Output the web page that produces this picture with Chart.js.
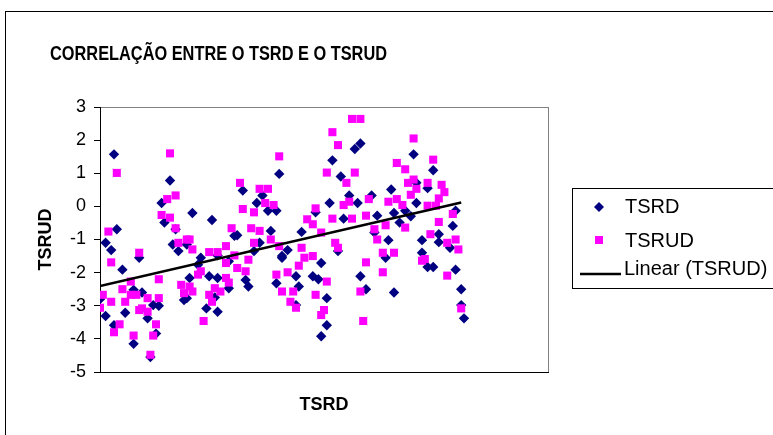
<!DOCTYPE html>
<html>
<head>
<meta charset="utf-8">
<title>Correlação entre o TSRD e o TSRUD</title>
<script src="https://cdn.jsdelivr.net/npm/chart.js@4.4.1/dist/chart.umd.min.js"></script>
<style>
  html, body { margin: 0; padding: 0; background: #fff; }
  canvas { display: block; }
</style>
</head>
<body>
<canvas id="corrChart" width="773" height="435"></canvas>
<script>
// sample number (x) and value (y), per series
const tsrdX = [5, 25, 22, 23, 27, 6, 2, 4, 26, 28, 14, 8, 32, 30, 0, 2, 9, 12, 15, 19, 21, 17, 5, 20, 12, 18,
    64, 51, 58, 56, 60, 63, 33, 40, 61, 49, 48, 57, 31, 55, 65, 36, 42, 46, 35, 39, 42, 52, 63, 53, 46, 41, 38, 42, 31,
    93, 91, 83, 86, 89, 97, 82, 92, 77, 87, 72, 98, 85, 67, 65, 79, 70, 76, 78, 93, 71, 95, 81, 70, 81, 79,
    112, 119, 113, 117, 104, 113, 105, 109, 111, 127, 107, 126, 99, 103, 115, 121, 121, 125, 102, 115, 117, 119, 127, 105, 129, 129, 130];
const tsrdY = [1.57, 0.78, 0.10, -0.49, -0.69, -0.69, -1.10, -1.32, -1.15, -1.35, -1.55, -1.91, -2.16, -2.83, -2.80, -3.31, -3.21, -2.52, -2.60, -2.98, -3.00, -3.38, -3.59, -3.84, -4.15, -4.55,
    0.98, 0.48, 0.33, 0.10, -0.13, -0.13, -0.20, -0.41, -0.74, -0.87, -0.89, -1.10, -1.15, -1.35, -1.50, -1.55, -1.48, -1.66, -1.76, -2.11, -2.16, -2.22, -2.32, -2.42, -2.47, -2.75, -3.08, -3.18, -2.77,
    1.90, 1.73, 1.39, 0.90, 0.33, 0.33, 0.10, 0.10, -0.18, -0.37, -0.77, -0.79, -1.35, -1.32, -1.55, -1.71, -2.11, -2.11, -2.20, -2.11, -2.42, -2.50, -2.77, -2.98, -3.59, -3.92,
    1.57, 1.09, 0.71, 0.55, 0.51, 0.10, -0.20, -0.13, -0.30, -0.13, -0.49, -0.59, -0.28, -1.02, -1.02, -0.84, -1.08, -1.25, -1.55, -1.40, -1.83, -1.83, -1.91, -2.60, -2.50, -2.98, -3.38];

const tsrudX = [6, 25, 27, 24, 22, 25, 27, 3, 28, 31, 4, 14, 21, 11, 29, 30, 8, 1, 4, 0, 9, 11, 13, 17, 21, 14, 15, 17, 7, 5, 20, 19, 12, 18,
    64, 50, 57, 60, 59, 62, 51, 55, 47, 54, 57, 61, 55, 64, 32, 33, 45, 39, 42, 48, 53, 45, 49, 52, 36, 35, 45, 63, 46, 32, 33, 41, 43, 39, 40, 65, 37,
    90, 93, 83, 85, 81, 91, 88, 96, 87, 89, 77, 83, 90, 95, 74, 76, 79, 98, 84, 85, 72, 76, 73, 71, 95, 67, 81, 93, 69, 68, 77, 70, 80, 79, 94,
    112, 106, 109, 119, 110, 112, 113, 117, 122, 123, 121, 111, 103, 106, 108, 117, 120, 126, 109, 121, 102, 99, 118, 124, 127, 128, 101, 105, 115, 116, 124, 101, 129];
const tsrudY = [1.01, 1.60, 0.33, 0.22, -0.26, -0.34, -0.66, -0.76, -1.10, -1.00, -1.69, -1.40, -2.20, -2.27, -2.37, -2.62, -2.50, -2.67, -2.88, -3.06, -2.88, -2.67, -2.67, -2.77, -2.77, -3.13, -3.08, -3.18, -3.56, -3.80, -3.56, -3.90, -3.90, -4.48,
    1.51, 0.71, 0.53, 0.53, 0.10, 0.04, -0.08, -0.18, -0.66, -0.66, -0.74, -1.00, -1.10, -1.20, -1.00, -1.30, -1.20, -1.38, -1.38, -1.48, -1.61, -1.71, -1.86, -1.96, -1.96, -2.06, -2.16, -2.06, -2.30, -2.42, -2.57, -2.47, -2.57, -2.67, -2.88, -2.57, -3.46,
    2.64, 2.64, 2.24, 1.85, 1.02, 1.02, 0.71, 0.22, 0.04, 0.14, -0.06, -0.37, -0.37, -0.28, -0.39, -0.54, -0.79, -0.69, -1.10, -1.25, -1.25, -1.50, -1.55, -1.79, -1.69, -1.99, -2.27, -2.57, -2.57, -2.88, -2.67, -3.06, -3.13, -3.28, -3.46,
    2.05, 1.31, 1.12, 1.41, 0.71, 0.81, 0.53, 0.71, 0.65, 0.43, 0.24, 0.35, 0.14, 0.22, 0.04, 0.02, 0.02, -0.23, -0.64, -0.47, -0.57, -1.00, -0.84, -1.10, -1.00, -1.30, -1.40, -1.40, -1.64, -1.59, -2.09, -1.99, -3.08];

const yTicks = [3, 2, 1, 0, -1, -2, -3, -4, -5];
const xRange = [0, 160];

const seriesNames = ["TSRD", "TSRUD", "Linear (TSRUD)"];
const titleText = "CORRELAÇÃO ENTRE O TSRD E O TSRUD";

// least squares fit, like Excel's linear trendline
function linearFit(xs, ys) {
    let sx = 0, sy = 0, sxx = 0, sxy = 0;
    const n = xs.length;
    for (let i = 0; i < n; i++) {
        sx += xs[i]; sy += ys[i];
        sxx += xs[i] * xs[i]; sxy += xs[i] * ys[i];
    }
    const slope = (n * sxy - sx * sy) / (n * sxx - sx * sx);
    return { slope: slope, intercept: (sy - slope * sx) / n };
}

const toPoints = (xs, ys) => xs.map((x, i) => ({ x: x, y: ys[i] }));

const fit = linearFit(tsrudX, tsrudY);
const trendX = [Math.min(...tsrudX), Math.max(...tsrudX)];
const trendPoints = trendX.map(x => ({ x: x, y: fit.intercept + fit.slope * x }));

const NAVY = "#000080";
const MAGENTA = "#FF00FF";
const FONT = '"Liberation Sans", Arial, sans-serif';
const TITLE_FONT = '"Liberation Sans Narrow", "Arial Narrow", "Liberation Sans", Arial, sans-serif';

// outer frame + grey plot area border
const framePlugin = {
    id: "frame",
    beforeDraw(chart) {
        const { ctx, chartArea: a } = chart;
        ctx.save();
        ctx.fillStyle = "#fff";
        ctx.fillRect(0, 0, chart.width, chart.height);
        ctx.strokeStyle = "#000";
        ctx.lineWidth = 1;
        ctx.strokeRect(5.5, 11.5, 900, 600);
        ctx.strokeStyle = "#808080";
        ctx.strokeRect(a.left + 0.5, a.top + 0.5, a.right - a.left, a.bottom - a.top);
        ctx.restore();
    }
};

// chart title, kept to the width it has in the picture
const titlePlugin = {
    id: "xlTitle",
    afterDraw(chart) {
        const ctx = chart.ctx;
        ctx.save();
        ctx.font = "bold 21px " + TITLE_FONT;
        ctx.fillStyle = "#000";
        ctx.textBaseline = "alphabetic";
        const w = ctx.measureText(titleText).width;
        const target = 337;
        ctx.translate(50, 60);
        if (Math.abs(w - target) > 6) ctx.scale(target / w, 1);
        ctx.fillText(titleText, 0, 0);
        ctx.restore();
    }
};

// boxed legend at the right, like Excel
const legendPlugin = {
    id: "xlLegend",
    afterDraw(chart) {
        const ctx = chart.ctx;
        ctx.save();
        ctx.strokeStyle = "#000";
        ctx.lineWidth = 1;
        ctx.strokeRect(572.5, 188.5, 300, 100);

        // diamond
        ctx.fillStyle = NAVY;
        ctx.beginPath();
        ctx.moveTo(599, 202); ctx.lineTo(604, 207); ctx.lineTo(599, 212); ctx.lineTo(594, 207);
        ctx.closePath();
        ctx.fill();
        // square
        ctx.fillStyle = MAGENTA;
        ctx.fillRect(595, 236, 8, 8);
        // line
        ctx.strokeStyle = "#000";
        ctx.lineWidth = 2.5;
        ctx.beginPath();
        ctx.moveTo(580, 274); ctx.lineTo(621, 274);
        ctx.stroke();

        ctx.fillStyle = "#000";
        ctx.font = "20px " + FONT;
        ctx.textBaseline = "alphabetic";
        ctx.fillText(seriesNames[0], 625, 213);
        ctx.fillText(seriesNames[1], 625, 247);
        ctx.fillText(seriesNames[2], 624, 275);
        ctx.restore();
    }
};

const ctx = document.getElementById("corrChart").getContext("2d");

new Chart(ctx, {
    type: "scatter",
    data: {
        datasets: [{
            label: seriesNames[2],
            type: "line",
            data: trendPoints,
            borderColor: "#000",
            borderWidth: 2.5,
            pointRadius: 0,
            fill: false,
            order: 0
        }, {
            label: seriesNames[1],
            data: toPoints(tsrudX, tsrudY),
            pointStyle: "rect",
            pointRadius: 5.7,
            pointBackgroundColor: MAGENTA,
            pointBorderColor: MAGENTA,
            pointBorderWidth: 0,
            order: 1
        }, {
            label: seriesNames[0],
            data: toPoints(tsrdX, tsrdY),
            pointStyle: "rectRot",
            pointRadius: 5.2,
            pointBackgroundColor: NAVY,
            pointBorderColor: NAVY,
            pointBorderWidth: 0,
            order: 2
        }]
    },
    options: {
        responsive: false,
        animation: false,
        layout: {
            padding: { left: 0, top: 107, right: 225, bottom: 0 }
        },
        plugins: {
            legend: { display: false },
            title: { display: false },
            tooltip: { enabled: false }
        },
        scales: {
            x: {
                type: "linear",
                min: xRange[0],
                max: xRange[1],
                grid: { display: false },
                border: { display: true, color: "#000", width: 1 },
                ticks: { display: false },
                title: {
                    display: true,
                    text: "TSRD",
                    color: "#000",
                    font: { family: FONT, size: 18, weight: "bold" },
                    padding: { top: 0, bottom: 19 }
                },
                afterFit(scale) { scale.height = 63; }
            },
            y: {
                min: yTicks[yTicks.length - 1],
                max: yTicks[0],
                afterBuildTicks(scale) {
                    scale.ticks = yTicks.map(v => ({ value: v }));
                },
                grid: {
                    display: true,
                    drawOnChartArea: false,
                    drawTicks: true,
                    tickLength: 6,
                    color: "#000"
                },
                border: { display: true, color: "#000", width: 1 },
                ticks: {
                    color: "#000",
                    padding: 8,
                    font: { family: FONT, size: 18 }
                },
                title: {
                    display: true,
                    text: "TSRUD",
                    color: "#000",
                    font: { family: FONT, size: 18, weight: "bold" },
                    padding: { top: 35, bottom: 0 }
                },
                afterFit(scale) { scale.width = 100; }
            }
        }
    },
    plugins: [framePlugin, titlePlugin, legendPlugin]
});
</script>
</body>
</html>
